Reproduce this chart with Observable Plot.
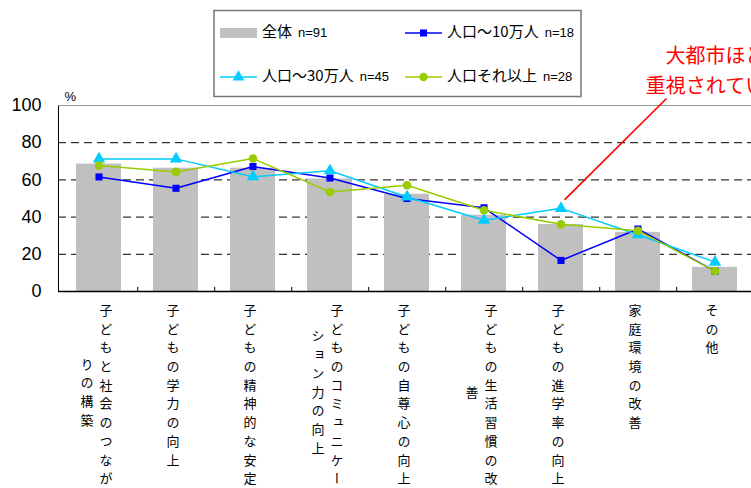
<!DOCTYPE html>
<html><head><meta charset="utf-8">
<script src="https://cdn.jsdelivr.net/npm/d3@7"></script>
<script src="https://cdn.jsdelivr.net/npm/@observablehq/plot@0.6"></script>
<style>body{margin:0;background:#fff;} svg{display:block;}</style>
</head><body><div id="chart"></div>
<script>
// ---- data ----
const labelCol1 = ["子どもと社会のつなが", "子どもの学力の向上", "子どもの精神的な安定", "子どものコミュニケー", "子どもの自尊心の向上", "子どもの生活習慣の改", "子どもの進学率の向上", "家庭環境の改善", "その他"];
const labelCol2 = ["りの構築", "", "", "ション力の向上", "", "善", "", "", ""];
const categories = labelCol1.map((c, i) => c + labelCol2[i]);
const allValues = [68.5, 66.3, 66.3, 60.5, 52.3, 41.0, 36.0, 31.8, 13.0];
const pop10Values = [61.6, 55.5, 67.2, 61.0, 50.0, 45.0, 16.7, 33.6, 11.0];
const pop30Values = [71.3, 71.3, 61.7, 64.9, 50.8, 38.3, 44.7, 30.5, 15.8];
const popOverValues = [67.7, 64.3, 71.5, 53.5, 57.1, 43.7, 36.1, 32.7, 11.0];
const seriesNames = ["全体", "人口～10万人", "人口～30万人", "人口それ以上"];
const seriesN = ["n=91", "n=18", "n=45", "n=28"];
const yTicks = [0, 20, 40, 60, 80, 100];
const gridValues = [20, 40, 60, 80];
const yUnit = "%";
const annotationText = "大都市ほど\n重視されている";
const annotationCategory = "子どもの進学率の向上";
const annotationValue = 49;

// ---- styles ----
const colors = {all: "#c0c0c0", p10: "#0000ff", p30: "#00ccff", pOver: "#99cc00"};
const W = 751, H = 488, mL = 58, mR = -4, mT = 105, mB = 197;
const step = (W - mL - mR) / categories.length;
const jp = "'Noto Sans CJK JP', 'Noto Sans', sans-serif";
const num = "'Liberation Sans', Arial, 'Noto Sans CJK JP', sans-serif";

const rows = categories.map((c, i) => ({
  cat: c, col1: labelCol1[i], col2: labelCol2[i],
  all: allValues[i], p10: pop10Values[i], p30: pop30Values[i], pOver: popOverValues[i]
}));
const twoCol = rows.filter(d => d.col2 !== "");
const oneCol = rows.filter(d => d.col2 === "");

const plot = Plot.plot({
  width: W, height: H,
  marginLeft: mL, marginRight: mR, marginTop: mT, marginBottom: mB,
  style: {fontFamily: num, background: "#fff", overflow: "visible"},
  x: {domain: categories, paddingInner: 0.42, paddingOuter: 0.21, axis: null},
  y: {domain: [0, 100], axis: null},
  marks: [
    Plot.ruleY(gridValues, {stroke: "#000", strokeWidth: 1, strokeDasharray: "8,5"}),
    Plot.barY(rows, {x: "cat", y: "all", fill: colors.all}),
    Plot.frame({stroke: "#000", strokeWidth: 1}),
    Plot.ruleY([100], {stroke: "#999", strokeWidth: 1.2}),
    Plot.ruleY([0], {stroke: "#000", strokeWidth: 1.5}),
    Plot.ruleX(categories.slice(0, -1), {x: d => d, dx: step / 2, y1: 0, y2: 2.2, stroke: "#000", strokeWidth: 1}),
    Plot.axisY({ticks: yTicks, tickSize: 0, tickPadding: 17, fontSize: 18, label: null, fill: "#000"}),
    Plot.text([yUnit], {frameAnchor: "top-left", dx: 6, dy: -14, fontSize: 13, fill: "#000"}),
    Plot.line(rows, {x: "cat", y: "p10", stroke: colors.p10, strokeWidth: 1.5}),
    Plot.dot(rows, {x: "cat", y: "p10", symbol: "square", r: 4, fill: colors.p10, stroke: null}),
    Plot.line(rows, {x: "cat", y: "p30", stroke: colors.p30, strokeWidth: 1.5}),
    Plot.dot(rows, {x: "cat", y: "p30", symbol: "triangle", r: 4.6, fill: colors.p30, stroke: null}),
    Plot.line(rows, {x: "cat", y: "pOver", stroke: colors.pOver, strokeWidth: 1.5}),
    Plot.dot(rows, {x: "cat", y: "pOver", symbol: "circle", r: 4.3, fill: colors.pOver, stroke: null}),
    Plot.text(oneCol, {x: "cat", text: "col1", frameAnchor: "bottom", dx: -3, dy: 12, fontSize: 13, fontFamily: jp, fill: "#000"}),
    Plot.text(twoCol, {x: "cat", text: "col1", frameAnchor: "bottom", dx: 7, dy: 12, fontSize: 13, fontFamily: jp, fill: "#000"}),
    Plot.text(twoCol, {x: "cat", text: "col2", frameAnchor: "bottom", dx: -12, dy: 103, fontSize: 13, fontFamily: jp, fill: "#000"}),
    Plot.text([annotationText], {frameAnchor: "top-right", dx: -40, dy: -13, lineAnchor: "bottom", lineHeight: 1.5, textAnchor: "middle", fontSize: 20, fontFamily: jp, fill: "#ff0000"})
  ]
});

const svg = d3.select(plot);
// vertical category labels
const firstCols = new Set(labelCol1);
const secondCols = new Set(labelCol2.filter(d => d));
svg.selectAll("text").each(function() {
  const s = this.textContent;
  if (firstCols.has(s) || secondCols.has(s)) {
    d3.select(this).attr("dy", null)
      .attr("text-anchor", firstCols.has(s) ? "start" : "middle")
      .attr("writing-mode", "tb")
      .style("writing-mode", "vertical-rl")
      .style("letter-spacing", "5.7px");
  }
});

// annotation arrow line, from the scales
const xs = plot.scale("x"), ys = plot.scale("y");
const ax = xs.apply(annotationCategory) + xs.bandwidth / 2;
svg.append("line")
  .attr("x1", ax + 4).attr("y1", ys.apply(annotationValue))
  .attr("x2", ax + 106).attr("y2", ys.apply(103.5))
  .attr("stroke", "#ff0000").attr("stroke-width", 1.6);

// legend
const lg = svg.append("g").attr("aria-label", "legend").attr("text-anchor", "start");
lg.append("rect").attr("x", 214).attr("y", 10.5).attr("width", 367).attr("height", 86)
  .attr("fill", "#fff").attr("stroke", "#777").attr("stroke-width", 1.5);
const items = [
  {name: seriesNames[0], n: seriesN[0], kind: "bar", color: colors.all, x: 220, y: 33},
  {name: seriesNames[1], n: seriesN[1], kind: "square", color: colors.p10, x: 405, y: 33},
  {name: seriesNames[2], n: seriesN[2], kind: "triangle", color: colors.p30, x: 220, y: 77},
  {name: seriesNames[3], n: seriesN[3], kind: "circle", color: colors.pOver, x: 405, y: 77}
];
for (const it of items) {
  if (it.kind === "bar") {
    lg.append("rect").attr("x", it.x).attr("y", it.y - 5).attr("width", 37).attr("height", 10).attr("fill", it.color);
  } else {
    lg.append("line").attr("x1", it.x).attr("x2", it.x + 37).attr("y1", it.y).attr("y2", it.y)
      .attr("stroke", it.color).attr("stroke-width", 1.5);
    const sym = {square: d3.symbolSquare, triangle: d3.symbolTriangle, circle: d3.symbolCircle}[it.kind];
    const size = {square: 50, triangle: 60, circle: 55}[it.kind];
    lg.append("path").attr("d", d3.symbol(sym, size)()).attr("transform", `translate(${it.x + 18.5},${it.y})`).attr("fill", it.color);
  }
  const t = lg.append("text").attr("x", it.x + 42).attr("y", it.y).attr("dy", "0.36em").attr("fill", "#000");
  t.append("tspan").attr("font-family", jp).attr("font-size", 15).text(it.name);
  t.append("tspan").attr("font-family", num).attr("font-size", 13).attr("dx", 6).text(it.n);
}

document.getElementById("chart").appendChild(plot);
</script>
</body></html>
